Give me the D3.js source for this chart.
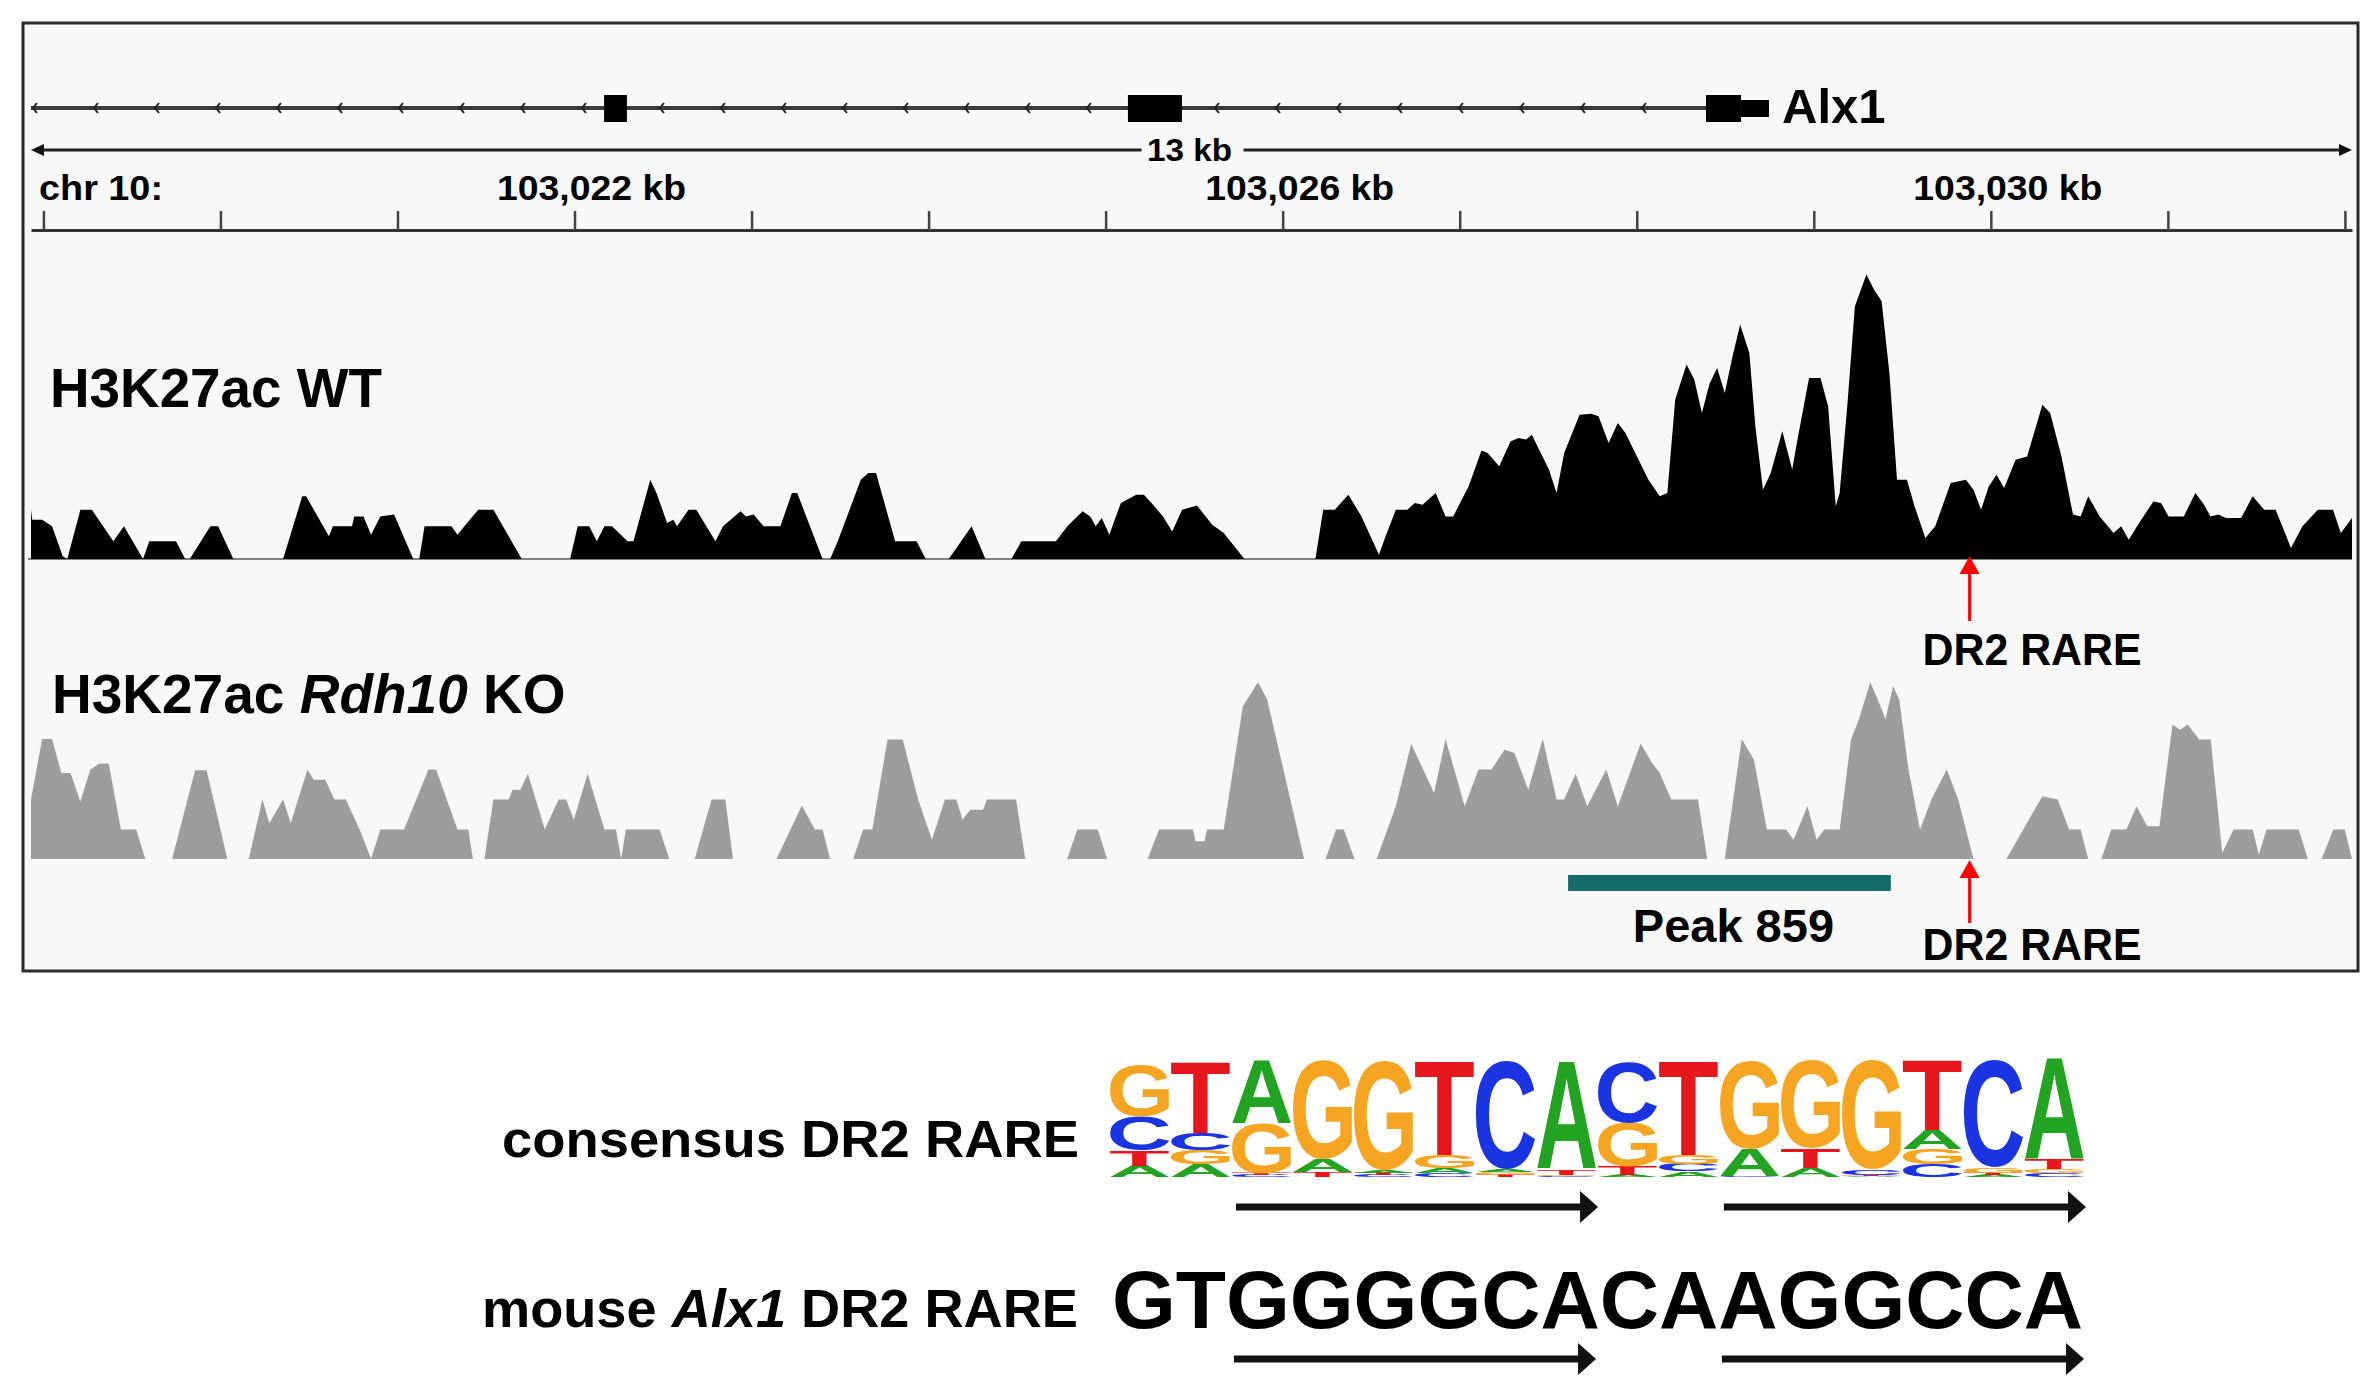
<!DOCTYPE html>
<html><head><meta charset="utf-8">
<script src="https://cdn.jsdelivr.net/npm/d3@7"></script>
<style>
html,body{margin:0;padding:0;background:#fff;}
svg{display:block;}
text{font-family:"Liberation Sans",Arial,Helvetica,sans-serif;font-weight:bold;fill:#000;}
</style></head><body>
<svg id="chart" width="2374" height="1395"></svg>
<script>
// ================= DATA =================
// genomic positions in kb, relative to chr10:103,000 kb
const chromLabel = "chr 10:";
const regionKb = [18.93, 32.04];
const minorTicksKb = d3.range(19, 33);
const majorTicksKb = [22, 26, 30];
const majorTickLabels = ["103,022 kb", "103,026 kb", "103,030 kb"];
const scaleBarLabel = "13 kb";

const geneName = "Alx1";
const geneSpanKb = [18.93, 28.391];
const codingExonsKb = [[22.167, 22.296], [25.126, 25.431], [28.391, 28.589]];
const utrExonsKb = [[28.589, 28.747]];

const trackNames = ["H3K27ac WT", "H3K27ac Rdh10 KO"];

// coverage profiles: [position kb, signal]
const wtProfile = [
[18.93,16.4],[18.937,13.1],[18.993,13.1],[19.049,10.9],[19.109,0.9],[19.135,0],
[19.209,16.4],[19.274,16.4],[19.395,5.9],[19.455,10.9],[19.563,0],
[19.598,5.9],[19.749,5.9],[19.801,0],[19.827,0],[19.943,10.9],[19.987,10.9],[20.073,0],
[20.354,0],[20.462,20.9],[20.484,20.9],[20.613,7.6],[20.635,10.9],[20.743,10.9],[20.756,14.2],[20.808,14.2],[20.851,8.1],[20.903,14.2],[20.981,14.8],[21.089,0],
[21.123,0],[21.153,10.9],[21.305,10.9],[21.339,8.1],[21.378,10.9],[21.456,16.4],[21.542,16.4],[21.702,0],
[21.975,0],[22.018,10.9],[22.083,10.9],[22.126,5.9],[22.169,10.9],[22.212,10.9],[22.299,5.9],[22.333,5.9],[22.428,26.4],[22.463,22],[22.523,12],[22.558,13.1],[22.579,10.9],[22.644,16.4],[22.688,16.4],[22.796,5.9],[22.839,10.9],[22.938,15.9],[22.968,14.2],[23.012,14.8],[23.068,10.9],[23.163,10.9],[23.228,22],[23.258,22],[23.401,0],
[23.444,0],[23.487,5.9],[23.617,26.4],[23.660,28.7],[23.703,28.7],[23.811,5.9],[23.932,5.9],[23.984,0],
[24.114,0],[24.243,10.9],[24.321,0],
[24.468,0],[24.524,5.9],[24.719,5.9],[24.784,10.9],[24.870,15.9],[24.913,14.2],[24.944,10.9],[24.978,13.7],[25.021,8.1],[25.086,18.7],[25.173,21.4],[25.216,21.4],[25.259,18.7],[25.324,14.2],[25.376,9.2],[25.432,16.4],
[25.516,17.8],[25.602,11.4],[25.667,8.7],[25.784,0],
[26.185,0],[26.229,16.4],[26.294,16.4],[26.371,21.4],[26.445,14.2],[26.544,1.4],[26.574,6.4],[26.639,16.4],[26.704,16.4],[26.747,18.7],[26.790,18.1],[26.864,22],[26.920,14.2],[26.963,14.2],[27.050,24.2],[27.123,36.2],[27.158,35.3],[27.223,30.9],[27.287,39.2],[27.331,40.3],[27.374,39.8],[27.408,41.4],[27.439,37.6],[27.504,29.8],[27.547,22],[27.590,35.3],[27.677,48.1],[27.742,48.4],[27.784,47.6],[27.841,38.7],[27.893,45.3],[27.936,42],[28.001,34.2],[28.066,26.4],[28.130,20.9],[28.173,22],[28.217,53.1],[28.281,64.8],[28.325,59.8],[28.368,48.7],[28.411,58.4],[28.454,63.7],[28.497,55.3],[28.541,67.6],[28.584,78.1],[28.636,68.7],[28.670,44.2],[28.713,23.1],[28.757,28.7],[28.822,42.6],[28.878,29.8],[28.908,39.8],[28.973,60.3],[29.038,60.3],[29.081,50.9],[29.124,17.6],[29.146,22],[29.189,50.9],[29.232,84.2],[29.297,94.8],[29.340,89.8],[29.383,85.9],[29.427,62],[29.470,26.4],[29.526,26.4],[29.569,17.6],[29.630,7],[29.686,10.9],[29.773,25.3],[29.859,26.4],[29.902,23.1],[29.945,16.4],[29.988,24.2],[30.032,28.1],[30.075,23.7],[30.140,33.1],[30.205,34.2],[30.291,51.4],[30.335,48.7],[30.399,34.2],[30.464,14.8],[30.507,14.2],[30.550,20.9],[30.615,14.2],[30.693,8.7],[30.736,10.9],[30.779,6.4],[30.831,11.4],[30.918,19.2],[30.961,18.7],[31.004,14.2],[31.090,14.2],[31.155,22],[31.198,18.7],[31.241,14.2],[31.285,14.8],[31.328,13.7],[31.414,13.7],[31.479,20.9],[31.544,16.4],[31.609,16.4],[31.695,3.7],[31.760,10.9],[31.847,16.4],[31.933,16.4],[31.977,8.7],[32.04,13.7]
];
const koProfile = [
[18.93,19.8],[18.993,40],[19.049,40],[19.101,28.7],[19.153,28.7],[19.209,19.2],[19.265,29.8],[19.317,31.8],[19.369,31.8],[19.438,9.8],[19.524,9.8],[19.576,0],
[19.727,0],[19.857,29.6],[19.922,29.6],[20.039,0],
[20.160,0],[20.237,19.8],[20.276,12],[20.354,19.8],[20.397,12],[20.492,29.8],[20.527,26.4],[20.592,26.4],[20.644,19.8],[20.708,19.8],[20.786,9.8],[20.851,0],
[20.903,9.8],[21.037,9.8],[21.175,29.8],[21.218,29.8],[21.339,9.8],[21.400,9.8],[21.426,0],
[21.491,0],[21.542,19.8],[21.628,19.8],[21.650,23.1],[21.694,23.1],[21.737,28.4],[21.832,9.8],[21.910,19.8],[21.953,19.8],[21.996,13.1],[22.074,28.4],[22.169,9.8],[22.234,9.8],[22.264,0],[22.290,9.8],[22.480,9.8],[22.536,0],
[22.679,0],[22.774,19.8],[22.852,19.8],[22.895,0],
[23.141,0],[23.284,17.8],[23.358,9.8],[23.401,9.8],[23.444,0],
[23.574,0],[23.630,9.8],[23.682,9.8],[23.768,39.8],[23.854,39.8],[23.941,19.8],[24.019,6.4],[24.092,19.8],[24.157,19.8],[24.192,13.1],[24.235,16.4],[24.308,16.4],[24.330,19.8],[24.494,19.8],[24.546,0],
[24.783,0],[24.840,9.8],[24.956,9.8],[25.008,0],
[25.237,0],[25.302,9.8],[25.494,9.8],[25.507,5.9],[25.559,5.9],[25.572,9.8],[25.667,9.8],[25.775,50.9],[25.861,58.9],[25.913,53.1],[26.121,0],
[26.242,0],[26.302,9.8],[26.345,9.8],[26.406,0],
[26.531,0],[26.639,17.6],[26.726,38.4],[26.855,22],[26.920,40],[27.028,17.6],[27.106,29.8],[27.179,29.8],[27.253,36.4],[27.309,35.3],[27.387,23.1],[27.469,40],[27.547,19.8],[27.590,19.8],[27.655,28.4],[27.720,17.6],[27.828,29.8],[27.893,17.6],[28.022,38.4],[28.087,32],[28.130,28.7],[28.195,19.8],[28.346,19.8],[28.398,0],
[28.497,0],[28.593,40],[28.662,33.1],[28.735,9.8],[28.843,9.8],[28.886,6.4],[28.964,17.6],[29.016,6.4],[29.059,9.8],[29.146,9.8],[29.210,39.8],[29.254,46.4],[29.319,58.9],[29.362,53.1],[29.405,46.7],[29.448,57.6],[29.483,53.1],[29.535,29.8],[29.600,9.8],[29.664,19.8],[29.751,29.8],[29.816,19.8],[29.902,0],
[30.088,0],[30.183,9.8],[30.291,20.9],[30.378,19.8],[30.442,9.8],[30.507,9.8],[30.550,0],
[30.624,0],[30.680,9.8],[30.766,9.8],[30.823,17.6],[30.883,10.9],[30.952,10.9],[31.026,44.8],[31.069,43.1],[31.112,44.8],[31.177,39.8],[31.242,39.8],[31.307,2],[31.371,9.8],[31.479,9.8],[31.514,1.4],[31.557,9.8],[31.739,9.8],[31.791,0],
[31.869,0],[31.934,9.8],[31.999,9.8],[32.04,0]
];
const signalRange = [0, 100];

const rarePositionKb = 29.88;
const rareLabel = "DR2 RARE";
const peakName = "Peak 859";
const peakKb = [27.612, 29.435];

// sequence logo: per position, [base, bits] from bottom to top
const logoColumns = [
  [["A",0.19],["T",0.26],["C",0.56],["G",0.86]],
  [["A",0.21],["G",0.23],["C",0.29],["T",1.18]],
  [["C",0.03],["T",0.03],["G",0.83],["A",1.06]],
  [["T",0.09],["A",0.21],["G",1.64]],
  [["C",0.04],["T",0.03],["A",0.03],["G",1.83]],
  [["C",0.06],["A",0.08],["G",0.22],["T",1.57]],
  [["T",0.04],["G",0.04],["A",0.04],["C",1.81]],
  [["C",0.02],["G",0.02],["T",0.09],["A",1.78]],
  [["A",0.03],["T",0.14],["G",0.74],["C",1.00]],
  [["A",0.09],["C",0.13],["G",0.15],["T",1.57]],
  [["C",0.02],["A",0.44],["G",1.47]],
  [["A",0.15],["T",0.33],["G",1.47]],
  [["A",0.02],["T",0.02],["C",0.08],["G",1.83]],
  [["C",0.21],["G",0.25],["A",0.32],["T",1.17]],
  [["A",0.03],["T",0.04],["G",0.08],["C",1.78]],
  [["C",0.07],["G",0.06],["T",0.17],["A",1.68]]
];
const baseColors = {A:"#22a322", C:"#1a34e2", G:"#f5a522", T:"#e5161c"};
const halfSites = [[2, 7], [10, 15]];   // column index ranges of the direct repeats
const consensusLabel = "consensus DR2 RARE";
const mouseSequence = "GTGGGGCACAAGGCCA";

// ================= DRAWING =================
const W = 2374, H = 1395;
const svg = d3.select("#chart");
svg.append("rect").attr("width", W).attr("height", H).attr("fill", "#fff");
svg.append("rect").attr("x", 23).attr("y", 23).attr("width", 2335).attr("height", 948)
  .attr("fill", "#f8f8f8").attr("stroke", "#2b2b2b").attr("stroke-width", 3);

const x = d3.scaleLinear().domain(regionKb).range([31, 2352]);

// ---- gene track ----
const geneY = 108;
const gGene = svg.append("g");
gGene.append("line").attr("x1", x(geneSpanKb[0])).attr("x2", x(geneSpanKb[1]))
  .attr("y1", geneY).attr("y2", geneY).attr("stroke", "#3a3a3a").attr("stroke-width", 4);
// strand chevrons (minus strand)
let introns = [], s = geneSpanKb[0];
codingExonsKb.forEach(e => { introns.push([s, e[0]]); s = e[1]; });
introns.forEach((iv, i) => {
  const a = x(iv[0]), b = x(iv[1]);
  for (let p = a + (i === 0 ? 3 : 34); p < b - 14; p += 61) {
    gGene.append("path").attr("d", `M${p+3},${geneY-5}L${p-1},${geneY}L${p+3},${geneY+5}`)
      .attr("fill", "none").attr("stroke", "#222").attr("stroke-width", 2);
  }
});
gGene.selectAll("rect.cds").data(codingExonsKb).join("rect")
  .attr("x", d => x(d[0])).attr("width", d => x(d[1]) - x(d[0]))
  .attr("y", geneY - 13).attr("height", 27).attr("fill", "#000");
gGene.selectAll("rect.utr").data(utrExonsKb).join("rect")
  .attr("x", d => x(d[0])).attr("width", d => x(d[1]) - x(d[0]))
  .attr("y", geneY - 8).attr("height", 17).attr("fill", "#000");
gGene.append("text").attr("x", x(utrExonsKb[0][1]) + 13).attr("y", 123)
  .attr("font-size", 49).text(geneName);

// ---- scale bar ----
const sbY = 150, mid = (x.range()[0] + x.range()[1]) / 2;
const gSb = svg.append("g");
[[x.range()[0] + 10, mid - 50], [mid + 52, x.range()[1] - 10]].forEach(seg => {
  gSb.append("line").attr("x1", seg[0]).attr("x2", seg[1]).attr("y1", sbY).attr("y2", sbY)
    .attr("stroke", "#222").attr("stroke-width", 3);
});
gSb.append("path").attr("d", `M${x.range()[0]},${sbY}l13,-6v12z`).attr("fill", "#111");
gSb.append("path").attr("d", `M${x.range()[1]},${sbY}l-13,-6v12z`).attr("fill", "#111");
gSb.append("text").attr("x", mid - 2).attr("y", 161).attr("text-anchor", "middle")
  .attr("font-size", 31).attr("textLength", 85).attr("lengthAdjust", "spacingAndGlyphs").text(scaleBarLabel);

// ---- ruler ----
const ruler = d3.axisTop(x).tickValues(minorTicksKb).tickSize(19).tickSizeOuter(0).tickFormat("");
const gR = svg.append("g").attr("transform", "translate(0,230)").call(ruler);
gR.select(".domain").attr("stroke", "#333").attr("stroke-width", 3);
gR.selectAll(".tick line").attr("stroke", "#444").attr("stroke-width", 2.5);
svg.append("text").attr("x", 39).attr("y", 200).attr("font-size", 35)
  .attr("textLength", 124).attr("lengthAdjust", "spacingAndGlyphs").text(chromLabel);
svg.selectAll("text.major").data(majorTicksKb).join("text")
  .attr("x", d => x(d) + 17).attr("y", 200).attr("text-anchor", "middle").attr("font-size", 35)
  .attr("textLength", 189).attr("lengthAdjust", "spacingAndGlyphs")
  .text((d, i) => majorTickLabels[i]);

// ---- coverage tracks ----
function track(profile, baseY, fill, baseLine) {
  const y = d3.scaleLinear().domain(signalRange).range([baseY, baseY - 300]);
  if (baseLine) svg.append("line").attr("x1", 28).attr("x2", x.range()[1]).attr("y1", baseY).attr("y2", baseY)
    .attr("stroke", baseLine).attr("stroke-width", 2);
  svg.append("path").datum(profile)
    .attr("d", d3.area().x(d => x(d[0])).y0(baseY).y1(d => y(d[1])))
    .attr("fill", fill);
}
track(wtProfile, 559, "#000", "#808080");
track(koProfile, 859, "#9d9d9d", null);

svg.append("text").attr("x", 50).attr("y", 407).attr("font-size", 55)
  .attr("textLength", 332).attr("lengthAdjust", "spacingAndGlyphs").text(trackNames[0]);
const koT = svg.append("text").attr("x", 52).attr("y", 713).attr("font-size", 55);
koT.append("tspan").text("H3K27ac ");
koT.append("tspan").attr("font-style", "italic").text("Rdh10");
koT.append("tspan").text(" KO");

// peak bar
svg.append("rect").attr("x", x(peakKb[0])).attr("width", x(peakKb[1]) - x(peakKb[0]))
  .attr("y", 875).attr("height", 16).attr("fill", "#156b69");
svg.append("text").attr("x", (x(peakKb[0]) + x(peakKb[1])) / 2 + 4).attr("y", 942)
  .attr("text-anchor", "middle").attr("font-size", 47).text(peakName);

// DR2 RARE arrows
function redArrow(tipY, bottomY, labelY) {
  const ax = x(rarePositionKb);
  svg.append("line").attr("x1", ax).attr("x2", ax).attr("y1", tipY + 14).attr("y2", bottomY)
    .attr("stroke", "#f00").attr("stroke-width", 3);
  svg.append("path").attr("d", `M${ax},${tipY}L${ax+10},${tipY+18}L${ax-10},${tipY+18}Z`).attr("fill", "#f00");
  svg.append("text").attr("x", ax - 47).attr("y", labelY).attr("font-size", 44)
    .attr("textLength", 219).attr("lengthAdjust", "spacingAndGlyphs").text(rareLabel);
}
redArrow(556, 621, 665);
redArrow(860, 923, 960);

// ---- sequence logo ----
const cols = d3.scaleBand().domain(d3.range(logoColumns.length)).range([1110, 2084]).paddingInner(0.03);
const bits = d3.scaleLinear().domain([0, 2]).range([1177, 1057]);
const cv = document.createElement("canvas").getContext("2d");
const FPX = 200;
cv.font = `bold ${FPX}px "Liberation Sans", Arial, sans-serif`;
const gLogo = svg.append("g");
logoColumns.forEach((col, i) => {
  let cum = 0;
  col.forEach(([b, h]) => {
    const yb = bits(cum), yt = bits(cum + h); cum += h;
    const m = cv.measureText(b);
    const w0 = m.actualBoundingBoxLeft + m.actualBoundingBoxRight;
    const h0 = m.actualBoundingBoxAscent + m.actualBoundingBoxDescent;
    const sx = cols.bandwidth() / w0, sy = (yb - yt) / h0;
    gLogo.append("text").attr("font-size", FPX).attr("fill", baseColors[b]).style("fill", baseColors[b])
      .attr("transform", `translate(${cols(i)},${yb}) scale(${sx},${sy}) translate(${m.actualBoundingBoxLeft},${-m.actualBoundingBoxDescent})`)
      .text(b);
  });
});

function blackArrow(x1, x2, y) {
  svg.append("line").attr("x1", x1).attr("x2", x2 - 14).attr("y1", y).attr("y2", y)
    .attr("stroke", "#111").attr("stroke-width", 7);
  svg.append("path").attr("d", `M${x2},${y}L${x2-18},${y-16}L${x2-18},${y+16}Z`).attr("fill", "#111");
}
halfSites.forEach(([a, b]) => {
  blackArrow(cols(a) + 4, cols(b) + cols.bandwidth() + 2, 1207);
  blackArrow(cols(a) + 2, cols(b) + cols.bandwidth(), 1359);
});

svg.append("text").attr("x", 1079).attr("y", 1157).attr("text-anchor", "end").attr("font-size", 52)
  .attr("textLength", 577).attr("lengthAdjust", "spacingAndGlyphs").text(consensusLabel);
const mt = svg.append("text").attr("x", 1078).attr("y", 1327).attr("text-anchor", "end").attr("font-size", 53)
  .attr("textLength", 596).attr("lengthAdjust", "spacingAndGlyphs");
mt.append("tspan").text("mouse ");
mt.append("tspan").attr("font-style", "italic").text("Alx1");
mt.append("tspan").text(" DR2 RARE");
svg.append("text").attr("x", 1112).attr("y", 1328).attr("font-size", 82)
  .attr("textLength", 971).attr("lengthAdjust", "spacingAndGlyphs").text(mouseSequence);
</script>
</body></html>
